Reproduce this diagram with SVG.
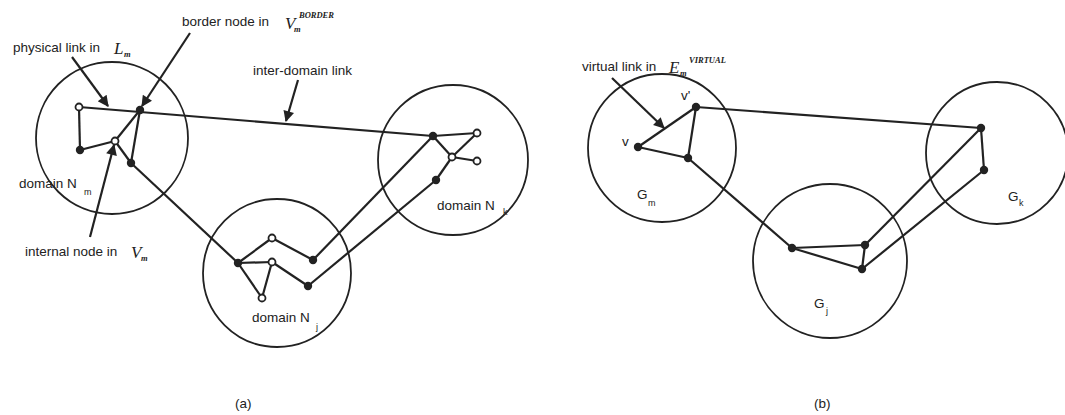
<svg xmlns="http://www.w3.org/2000/svg" width="1065" height="415" viewBox="0 0 1065 415">
<style>
.dom{fill:none;stroke:#222;stroke-width:1.8}
.e{stroke:#222;stroke-width:2.2;fill:none}
.ptr{stroke:#222;stroke-width:2.2;fill:none;marker-end:url(#ah)}
.f{fill:#222}
.o{fill:#fff;stroke:#222;stroke-width:1.8}
.t{font-family:"Liberation Sans",Arial,sans-serif;font-size:13.5px;fill:#222}
.s{font-family:"Liberation Sans",Arial,sans-serif;font-size:9px;fill:#222}
.m{font-family:"Liberation Serif","Times New Roman",serif;font-style:italic;font-size:17px;fill:#222}
.ms{font-family:"Liberation Serif","Times New Roman",serif;font-style:italic;font-weight:bold;font-size:8.5px;fill:#222}
</style>
<defs>
<marker id="ah" viewBox="0 0 10 10" refX="9" refY="5" markerWidth="6" markerHeight="5" orient="auto" markerUnits="strokeWidth">
<path d="M0,0 L10,5 L0,10 z" fill="#222"/>
</marker>
</defs>
<g id="connectors">
<line class="e" x1="79" y1="107" x2="433" y2="136"/>
<line class="e" x1="79" y1="107" x2="80" y2="150"/>
<line class="e" x1="80" y1="150" x2="115" y2="141"/>
<line class="e" x1="115" y1="141" x2="140" y2="110"/>
<line class="e" x1="140" y1="110" x2="131" y2="163"/>
<line class="e" x1="115" y1="141" x2="131" y2="163"/>
<line class="e" x1="131" y1="163" x2="238" y2="263"/>
<line class="e" x1="238" y1="263" x2="272" y2="238"/>
<line class="e" x1="272" y1="238" x2="313" y2="260"/>
<line class="e" x1="238" y1="263" x2="272" y2="262"/>
<line class="e" x1="272" y1="262" x2="308" y2="286"/>
<line class="e" x1="238" y1="263" x2="262" y2="298"/>
<line class="e" x1="262" y1="298" x2="272" y2="262"/>
<line class="e" x1="313" y1="260" x2="433" y2="136"/>
<line class="e" x1="308" y1="286" x2="436" y2="180"/>
<line class="e" x1="433" y1="136" x2="477" y2="133"/>
<line class="e" x1="433" y1="136" x2="452" y2="157"/>
<line class="e" x1="452" y1="157" x2="477" y2="133"/>
<line class="e" x1="452" y1="157" x2="477" y2="161"/>
<line class="e" x1="452" y1="157" x2="436" y2="180"/>
<line class="e" x1="638" y1="147" x2="696" y2="107"/>
<line class="e" x1="696" y1="107" x2="688" y2="158"/>
<line class="e" x1="638" y1="147" x2="688" y2="158"/>
<line class="e" x1="688" y1="158" x2="792" y2="248"/>
<line class="e" x1="696" y1="107" x2="981" y2="128"/>
<line class="e" x1="792" y1="248" x2="865" y2="245"/>
<line class="e" x1="792" y1="248" x2="862" y2="269"/>
<line class="e" x1="865" y1="245" x2="862" y2="269"/>
<line class="e" x1="865" y1="245" x2="981" y2="128"/>
<line class="e" x1="862" y1="269" x2="984" y2="170"/>
<line class="e" x1="981" y1="128" x2="984" y2="170"/>
<line class="ptr" x1="72" y1="57" x2="108" y2="106"/>
<line class="ptr" x1="190" y1="33" x2="142" y2="106"/>
<line class="ptr" x1="90" y1="237" x2="114" y2="145"/>
<line class="ptr" x1="298" y1="80" x2="286" y2="121"/>
<line class="ptr" x1="612" y1="78" x2="664" y2="128"/>
</g>
<g id="domain-Nm">
<circle class="dom" cx="112" cy="138" r="76"/>
<circle class="o" cx="79" cy="107" r="3.5"/>
<circle class="f" cx="140" cy="110" r="4.2"/>
<circle class="f" cx="80" cy="150" r="4.2"/>
<circle class="o" cx="115" cy="141" r="3.5"/>
<circle class="f" cx="131" cy="163" r="4.2"/>
<text class="t" x="19" y="188">domain N</text>
<text class="s" x="84" y="195">m</text>
</g>
<g id="domain-Nj">
<circle class="dom" cx="277" cy="273" r="74"/>
<circle class="f" cx="238" cy="263" r="4.2"/>
<circle class="o" cx="272" cy="238" r="3.5"/>
<circle class="o" cx="272" cy="262" r="3.5"/>
<circle class="f" cx="313" cy="260" r="4.2"/>
<circle class="f" cx="308" cy="286" r="4.2"/>
<circle class="o" cx="262" cy="298" r="3.5"/>
<text class="t" x="252" y="322">domain N</text>
<text class="s" x="316" y="330">j</text>
</g>
<g id="domain-Nk">
<circle class="dom" cx="453" cy="160" r="75"/>
<circle class="f" cx="433" cy="136" r="4.2"/>
<circle class="o" cx="477" cy="133" r="3.5"/>
<circle class="o" cx="452" cy="157" r="3.5"/>
<circle class="o" cx="477" cy="161" r="3.5"/>
<circle class="f" cx="436" cy="180" r="4.2"/>
<text class="t" x="437" y="210">domain N</text>
<text class="s" x="503" y="215">k</text>
</g>
<g id="label-physical">
<text class="t" x="13" y="52">physical link in</text>
<text class="m" x="114" y="54">L</text>
<text class="ms" x="124" y="57">m</text>
</g>
<g id="label-border">
<text class="t" x="182" y="26">border node in</text>
<text class="m" x="285" y="29">V</text>
<text class="ms" x="294" y="32">m</text>
<text class="ms" x="299" y="18">BORDER</text>
</g>
<g id="label-internal">
<text class="t" x="25" y="256">internal node in</text>
<text class="m" x="131" y="258">V</text>
<text class="ms" x="141" y="261">m</text>
</g>
<g id="label-interdomain">
<text class="t" x="253" y="75">inter-domain link</text>
</g>
<text class="t" x="235" y="408">(a)</text>
<g id="Gm">
<circle class="dom" cx="662" cy="148" r="74"/>
<circle class="f" cx="696" cy="107" r="4.2"/>
<circle class="f" cx="638" cy="147" r="4.2"/>
<circle class="f" cx="688" cy="158" r="4.2"/>
<text class="t" x="681" y="100">v'</text>
<text class="t" x="622" y="146">v</text>
<text class="t" x="637" y="199">G</text>
<text class="s" x="648" y="206">m</text>
</g>
<g id="Gj">
<circle class="dom" cx="830" cy="261" r="77"/>
<circle class="f" cx="792" cy="248" r="4.2"/>
<circle class="f" cx="865" cy="245" r="4.2"/>
<circle class="f" cx="862" cy="269" r="4.2"/>
<text class="t" x="814" y="308">G</text>
<text class="s" x="826" y="314">j</text>
</g>
<g id="Gk">
<circle class="dom" cx="997" cy="153" r="71"/>
<circle class="f" cx="981" cy="128" r="4.2"/>
<circle class="f" cx="984" cy="170" r="4.2"/>
<text class="t" x="1008" y="201">G</text>
<text class="s" x="1019" y="206">k</text>
</g>
<g id="label-virtual">
<text class="t" x="582" y="71">virtual link in</text>
<text class="m" x="669" y="73">E</text>
<text class="ms" x="680" y="76">m</text>
<text class="ms" x="689" y="63">VIRTUAL</text>
</g>
<text class="t" x="814" y="408">(b)</text>
</svg>
